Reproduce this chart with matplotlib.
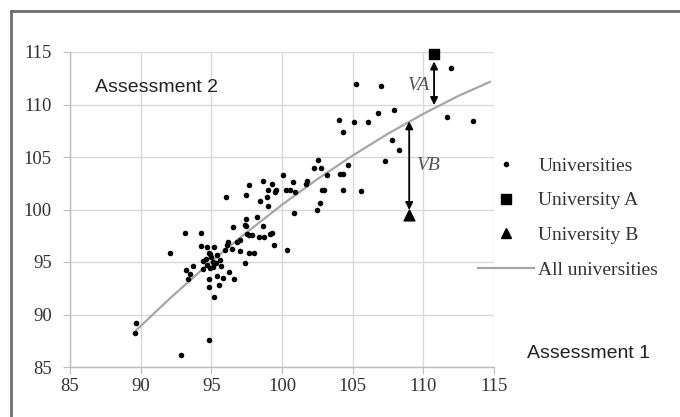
import matplotlib
matplotlib.use("Agg")
import matplotlib.pyplot as plt
from matplotlib.lines import Line2D

# ---- data ----
uni_x = [89.67, 89.6, 92.83, 94.84, 92.08, 93.14, 94.27, 96.04, 97.46, 97.7,
         95.2, 94.8, 95.57, 94.8, 95.38, 95.85, 96.6, 96.25, 93.37, 93.5,
         93.2, 93.68, 94.4, 94.44, 94.67, 94.9, 95.1, 95.0, 95.7, 95.6,
         94.3, 94.7, 95.2, 94.8, 95.4, 96.0, 96.1, 96.2, 96.44, 96.56,
         96.84, 97.03, 97.0, 97.4, 97.46, 97.4, 97.5, 94.6, 95.1, 94.9, 95.3,
         102.53, 102.27, 102.76, 104.7, 103.2, 104.1, 104.34, 101.8, 101.7, 102.8,
         103.0, 104.34, 105.6, 102.7, 102.46, 100.87, 100.05, 100.76, 100.57, 100.9,
         100.3, 98.68, 99.27, 99.0, 99.5, 99.6, 98.96, 98.45, 99.03, 97.46,
         98.2, 98.68, 97.7, 97.9, 98.4, 98.7, 99.15, 99.3, 99.44, 100.34,
         97.7, 98.0,
         105.24, 104.0, 105.1, 106.1, 104.3, 111.94, 106.99, 106.82, 107.93, 111.66,
         113.5, 107.76, 108.3, 107.3]
uni_y = [89.2, 88.2, 86.1, 87.6, 95.9, 97.8, 97.8, 101.2, 101.4, 102.3,
         91.7, 92.6, 92.8, 93.4, 93.7, 93.5, 93.35, 94.05, 93.4, 93.9,
         94.2, 94.6, 94.3, 95.1, 94.7, 94.4, 94.5, 95.5, 94.6, 95.2,
         96.5, 96.4, 96.4, 95.9, 95.7, 96.1, 96.6, 96.9, 96.2, 98.3,
         96.9, 96.05, 97.1, 98.5, 99.06, 94.9, 97.7, 95.3, 95.0, 95.8, 94.9,
         104.7, 104.0, 104.0, 104.2, 103.3, 103.4, 103.4, 102.7, 102.4, 101.9,
         101.9, 101.9, 101.8, 100.6, 99.95, 99.7, 103.3, 102.65, 101.85, 101.7,
         101.9, 102.75, 102.4, 101.9, 101.7, 101.9, 101.2, 100.85, 100.3, 98.4,
         99.3, 98.4, 97.6, 97.6, 97.4, 97.35, 97.7, 97.8, 96.6, 96.1,
         95.9, 95.9,
         112.0, 108.5, 108.3, 108.3, 107.4, 113.5, 111.76, 109.2, 109.5, 108.84,
         108.46, 106.6, 105.67, 104.65]

uni_a = (110.76, 114.8)
uni_b = (109.0, 99.5)

trend_x = [89.7, 92.0, 94.5, 97.0, 100.0, 102.5, 105.0, 107.5, 110.0, 112.5, 114.7]
trend_y = [88.52, 91.45, 94.46, 97.29, 100.45, 102.89, 105.14, 107.22, 109.11, 110.83, 112.15]

va_span = (114.1, 109.95)   # arrow VA at x of University A
vb_span = (108.4, 99.95)    # arrow VB at x of University B

x_ticks = [85, 90, 95, 100, 105, 110, 115]
y_ticks = [85, 90, 95, 100, 105, 110, 115]

legend_labels = ["Universities", "University A", "University B", "All universities"]

# ---- figure ----
W, H = 680, 417
fig = plt.figure(figsize=(W / 100, H / 100), dpi=100)
fig.patch.set_facecolor("white")

# outer frame (left and top edges visible)
fig.add_artist(Line2D([11 / W, 11 / W], [0, 1 - 11 / H], transform=fig.transFigure,
                      color="#6e6e6e", lw=2.0))
fig.add_artist(Line2D([11 / W, 1], [1 - 11 / H, 1 - 11 / H], transform=fig.transFigure,
                      color="#6e6e6e", lw=2.0))

ax = fig.add_axes([70 / W, 1 - 367 / H, (494 - 70) / W, (367 - 52) / H])
ax.set_xlim(85, 115)
ax.set_ylim(85, 115)
ax.set_xticks(x_ticks)
ax.set_yticks(y_ticks)
ax.grid(True, color="#d9d9d9", lw=1.0)
ax.set_axisbelow(True)
for s in ["top", "right"]:
    ax.spines[s].set_visible(False)
for s in ["left", "bottom"]:
    ax.spines[s].set_color("#bdbdbd")
    ax.spines[s].set_linewidth(1.0)
ax.tick_params(length=5, color="#bdbdbd", labelsize=13.5, labelcolor="#333333")
ax.tick_params(axis="x", pad=3)
ax.tick_params(axis="y", pad=8)
for lab in ax.get_xticklabels() + ax.get_yticklabels():
    lab.set_family("Liberation Serif")

ax.plot(trend_x, trend_y, color="#a6a6a6", lw=1.6, zorder=2)
ax.scatter(uni_x, uni_y, s=16, color="black", zorder=3, linewidths=0)
ax.scatter([uni_a[0]], [uni_a[1]], marker="s", s=55, color="black", zorder=4, clip_on=False)
ax.scatter([uni_b[0]], [uni_b[1]], marker="^", s=60, color="black", zorder=4, clip_on=False)

arrow = dict(arrowstyle="<|-|>", color="black", lw=1.3, mutation_scale=11,
             shrinkA=0, shrinkB=0)
ax.annotate("", xy=(uni_a[0], va_span[1]), xytext=(uni_a[0], va_span[0]), arrowprops=arrow)
ax.annotate("", xy=(uni_b[0], vb_span[1]), xytext=(uni_b[0], vb_span[0]), arrowprops=arrow)

ax.text(109.7, 111.8, "VA", family="Liberation Serif", style="italic", fontsize=14,
        color="#555555", ha="center", va="center")
ax.text(110.4, 104.2, "VB", family="Liberation Serif", style="italic", fontsize=14,
        color="#555555", ha="center", va="center")

fig.text(95 / W, 1 - 88 / H, "Assessment 2", family="Liberation Sans", fontsize=14,
         color="#222222", ha="left", va="center")
fig.text(527 / W, 1 - 353 / H, "Assessment 1", family="Liberation Sans", fontsize=14,
         color="#222222", ha="left", va="center")

handles = [
    Line2D([], [], ls="none", marker="o", markersize=3, color="black"),
    Line2D([], [], ls="none", marker="s", markersize=7, color="black"),
    Line2D([], [], ls="none", marker="^", markersize=7, color="black"),
    Line2D([], [], color="#a6a6a6", lw=1.6),
]
leg = fig.legend(handles, legend_labels, loc="upper left",
                 bbox_to_anchor=(478 / W, 1 - 157 / H), frameon=False,
                 prop={"family": "Liberation Serif", "size": 14},
                 handlelength=2.9, handletextpad=0.2, labelspacing=0.88,
                 borderpad=0, borderaxespad=0, labelcolor="#333333")

fig.savefig("out.png", dpi=100, facecolor="white")
